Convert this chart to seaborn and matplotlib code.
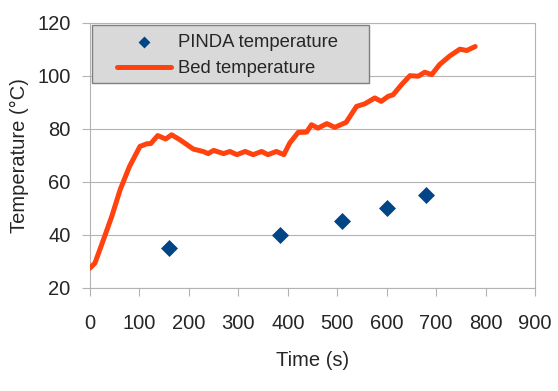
import pandas as pd
import matplotlib.pyplot as plt
import matplotlib.patches as mpatches
import seaborn as sns

# bed temperature trace
bed_time = [0, 10, 27, 44, 61, 80, 101, 115, 123, 137, 153, 165, 182, 209, 229, 239,
            250, 270, 283, 297, 314, 330, 347, 360, 377, 392, 404, 421, 438, 448, 461,
            479, 495, 518, 539, 556, 576, 589, 603, 613, 630, 647, 664, 677, 691, 707,
            728, 748, 762, 779]
bed_temp = [27.4, 29.3, 38, 46.9, 57, 65.8, 73.3, 74.3, 74.4, 77.4, 76.1, 77.7, 75.8, 72.3,
            71.4, 70.6, 71.8, 70.6, 71.4, 70.2, 71.4, 70.2, 71.4, 70.2, 71.4, 70.2, 74.6,
            78.6, 78.7, 81.5, 80.2, 81.9, 80.5, 82.4, 88.4, 89.4, 91.6, 90.3, 92.2, 92.8,
            96.6, 100, 99.8, 101.3, 100.4, 104.2, 107.5, 110, 109.5, 111]

pinda_time = [160, 385, 510, 600, 680]
pinda_temp = [35, 40, 45, 50, 55]

x_ticks = list(range(0, 1000, 100))
y_ticks = list(range(20, 140, 20))

bed = pd.DataFrame({"time": bed_time, "temp": bed_temp})
pinda = pd.DataFrame({"time": pinda_time, "temp": pinda_temp})

sns.set_style("white")
plt.rcParams["font.family"] = ["Liberation Sans", "DejaVu Sans"]

fig, ax = plt.subplots(figsize=(5.58, 3.91), dpi=100)
fig.subplots_adjust(left=0.1613, right=0.9588, top=0.942, bottom=0.2642)

sns.lineplot(data=bed, x="time", y="temp", ax=ax, color="#ff420e", linewidth=3.6,
             label="Bed temperature", zorder=3)
sns.scatterplot(data=pinda, x="time", y="temp", ax=ax, color="#004586", marker="D",
                s=75, linewidth=0, label="PINDA temperature", zorder=4)

ax.set_xlim(0, 900)
ax.set_ylim(20, 120)
ax.set_xticks(x_ticks)
ax.set_yticks(y_ticks)
ax.yaxis.grid(True, color="#b3b3b3", linewidth=0.8)
ax.xaxis.grid(False)
for s in ax.spines.values():
    s.set_color("#b3b3b3")
    s.set_linewidth(0.8)
ax.tick_params(axis="both", labelsize=14.5, length=6, width=0.8, color="#b3b3b3",
               direction="out", left=True, bottom=True)
ax.tick_params(axis="y", pad=8)
ax.tick_params(axis="x", pad=13)
ax.set_xlabel("Time (s)", fontsize=14.5, labelpad=13)
ax.set_ylabel("Temperature (°C)", fontsize=14.5, labelpad=6)

# legend box
ax.add_patch(mpatches.Rectangle((0.004, 0.774), 0.622, 0.217, transform=ax.transAxes,
                                facecolor="#d9d9d9", edgecolor="#7f7f7f", linewidth=1,
                                zorder=5))
handles, labels = ax.get_legend_handles_labels()
order = [labels.index("PINDA temperature"), labels.index("Bed temperature")]
leg = ax.legend([handles[i] for i in order], [labels[i] for i in order],
                loc="upper left", bbox_to_anchor=(0.053, 0.971), frameon=False,
                fontsize=13.3, handlelength=2.9, handletextpad=0.4, labelspacing=0.51,
                borderpad=0.2, borderaxespad=0, markerscale=0.7)
leg.set_zorder(6)

fig.savefig("out.png", dpi=100)
